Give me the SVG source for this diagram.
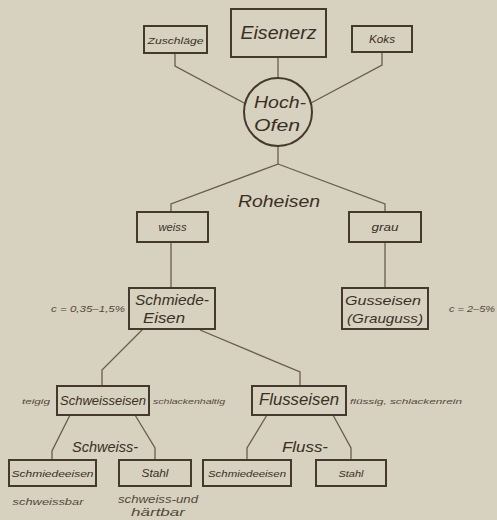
<svg xmlns="http://www.w3.org/2000/svg" width="497" height="520" viewBox="0 0 497 520">
<style>
.bg{fill:#d7d1bf}
.box{fill:none;stroke:#45382c;stroke-width:2}
.ln{fill:none;stroke:#6a5c4e;stroke-width:1.3}
text{font-family:"Liberation Sans","DejaVu Sans",sans-serif;font-style:italic;fill:#3a2f25;text-anchor:middle}
.sm{fill:#54483c}
</style>
<rect class="bg" x="0" y="0" width="497" height="520"/>
<g id="connectors">
<polyline class="ln" points="175,53 175,66 246,104"/>
<line class="ln" x1="278" y1="57" x2="278" y2="78"/>
<polyline class="ln" points="382,52 382,65 311,103"/>
<polyline class="ln" points="278,146 278,164 171,204 171,212"/>
<polyline class="ln" points="278,164 385,204 385,212"/>
<line class="ln" x1="171" y1="242" x2="171" y2="288"/>
<line class="ln" x1="385" y1="242" x2="385" y2="288"/>
<polyline class="ln" points="143,329 102,370 102,386"/>
<polyline class="ln" points="200,330 300,372 300,386"/>
<polyline class="ln" points="70,415 52,451 52,460"/>
<polyline class="ln" points="135,415 155,448 155,460"/>
<polyline class="ln" points="267,415 247,448 247,460"/>
<polyline class="ln" points="333,415 351,448 351,460"/>
</g>
<g id="zuschlaege"><rect class="box" x="144" y="26" width="63" height="27"/><text x="175.5" y="43.5" font-size="9" textLength="56" lengthAdjust="spacingAndGlyphs">Zuschläge</text></g>
<g id="eisenerz"><rect class="box" x="231" y="9" width="95" height="48"/><text x="278.5" y="39" font-size="19" textLength="76" lengthAdjust="spacingAndGlyphs">Eisenerz</text></g>
<g id="koks"><rect class="box" x="352" y="26" width="60" height="26"/><text x="382" y="43" font-size="10" textLength="26" lengthAdjust="spacingAndGlyphs">Koks</text></g>
<g id="hochofen"><circle class="box" cx="278" cy="112" r="34"/><text x="280" y="108" font-size="17" textLength="52" lengthAdjust="spacingAndGlyphs">Hoch-</text><text x="277" y="131" font-size="17" textLength="46" lengthAdjust="spacingAndGlyphs">Ofen</text></g>
<g id="roheisen"><text x="279" y="207" font-size="17" textLength="82" lengthAdjust="spacingAndGlyphs">Roheisen</text></g>
<g id="weiss"><rect class="box" x="137" y="212" width="71" height="30"/><text x="172.5" y="231" font-size="11" textLength="28" lengthAdjust="spacingAndGlyphs">weiss</text></g>
<g id="grau"><rect class="box" x="349" y="212" width="72" height="30"/><text x="385" y="231" font-size="11" textLength="27" lengthAdjust="spacingAndGlyphs">grau</text></g>
<g id="schmiedeeisen-main"><rect class="box" x="129" y="288" width="86" height="41"/><text x="172" y="305" font-size="14" textLength="74" lengthAdjust="spacingAndGlyphs">Schmiede-</text><text x="164" y="323" font-size="14" textLength="42" lengthAdjust="spacingAndGlyphs">Eisen</text><text class="sm" x="88" y="312" font-size="8.5" textLength="74" lengthAdjust="spacingAndGlyphs">c = 0,35–1,5%</text></g>
<g id="gusseisen"><rect class="box" x="342" y="288" width="86" height="41"/><text x="383" y="305" font-size="13.5" textLength="76" lengthAdjust="spacingAndGlyphs">Gusseisen</text><text x="385" y="323" font-size="13.5" textLength="76" lengthAdjust="spacingAndGlyphs">(Grauguss)</text><text class="sm" x="472" y="312" font-size="8.5" textLength="46" lengthAdjust="spacingAndGlyphs">c = 2–5%</text></g>
<g id="schweisseisen"><rect class="box" x="57" y="386" width="92" height="29"/><text x="103" y="405" font-size="12.5" textLength="86" lengthAdjust="spacingAndGlyphs">Schweisseisen</text><text class="sm" x="36" y="404" font-size="6.5" textLength="28" lengthAdjust="spacingAndGlyphs">teigig</text><text class="sm" x="189" y="404" font-size="6.5" textLength="72" lengthAdjust="spacingAndGlyphs">schlackenhaltig</text></g>
<g id="flusseisen"><rect class="box" x="252" y="386" width="94" height="29"/><text x="299" y="405" font-size="16" textLength="80" lengthAdjust="spacingAndGlyphs">Flusseisen</text><text class="sm" x="406" y="404" font-size="7.5" textLength="112" lengthAdjust="spacingAndGlyphs">flüssig, schlackenrein</text></g>
<g id="schweiss-label"><text x="105" y="452" font-size="15" textLength="66" lengthAdjust="spacingAndGlyphs">Schweiss-</text></g>
<g id="fluss-label"><text x="305" y="452" font-size="14" textLength="46" lengthAdjust="spacingAndGlyphs">Fluss-</text></g>
<g id="schmiedeeisen-1"><rect class="box" x="9" y="460" width="87" height="26"/><text x="52.5" y="477" font-size="9.5" textLength="82" lengthAdjust="spacingAndGlyphs">Schmiedeeisen</text><text class="sm" x="48" y="505" font-size="9" textLength="71" lengthAdjust="spacingAndGlyphs">schweissbar</text></g>
<g id="stahl-1"><rect class="box" x="119" y="460" width="72" height="26"/><text x="155" y="477" font-size="10" textLength="27" lengthAdjust="spacingAndGlyphs">Stahl</text><text class="sm" x="158" y="503" font-size="10" textLength="80" lengthAdjust="spacingAndGlyphs">schweiss-und</text><text class="sm" x="158" y="516" font-size="10" textLength="54" lengthAdjust="spacingAndGlyphs">härtbar</text></g>
<g id="schmiedeeisen-2"><rect class="box" x="203" y="460" width="88" height="26"/><text x="247" y="477" font-size="9" textLength="78" lengthAdjust="spacingAndGlyphs">Schmiedeeisen</text></g>
<g id="stahl-2"><rect class="box" x="316" y="460" width="70" height="26"/><text x="351" y="477" font-size="9.5" textLength="25" lengthAdjust="spacingAndGlyphs">Stahl</text></g>
</svg>
